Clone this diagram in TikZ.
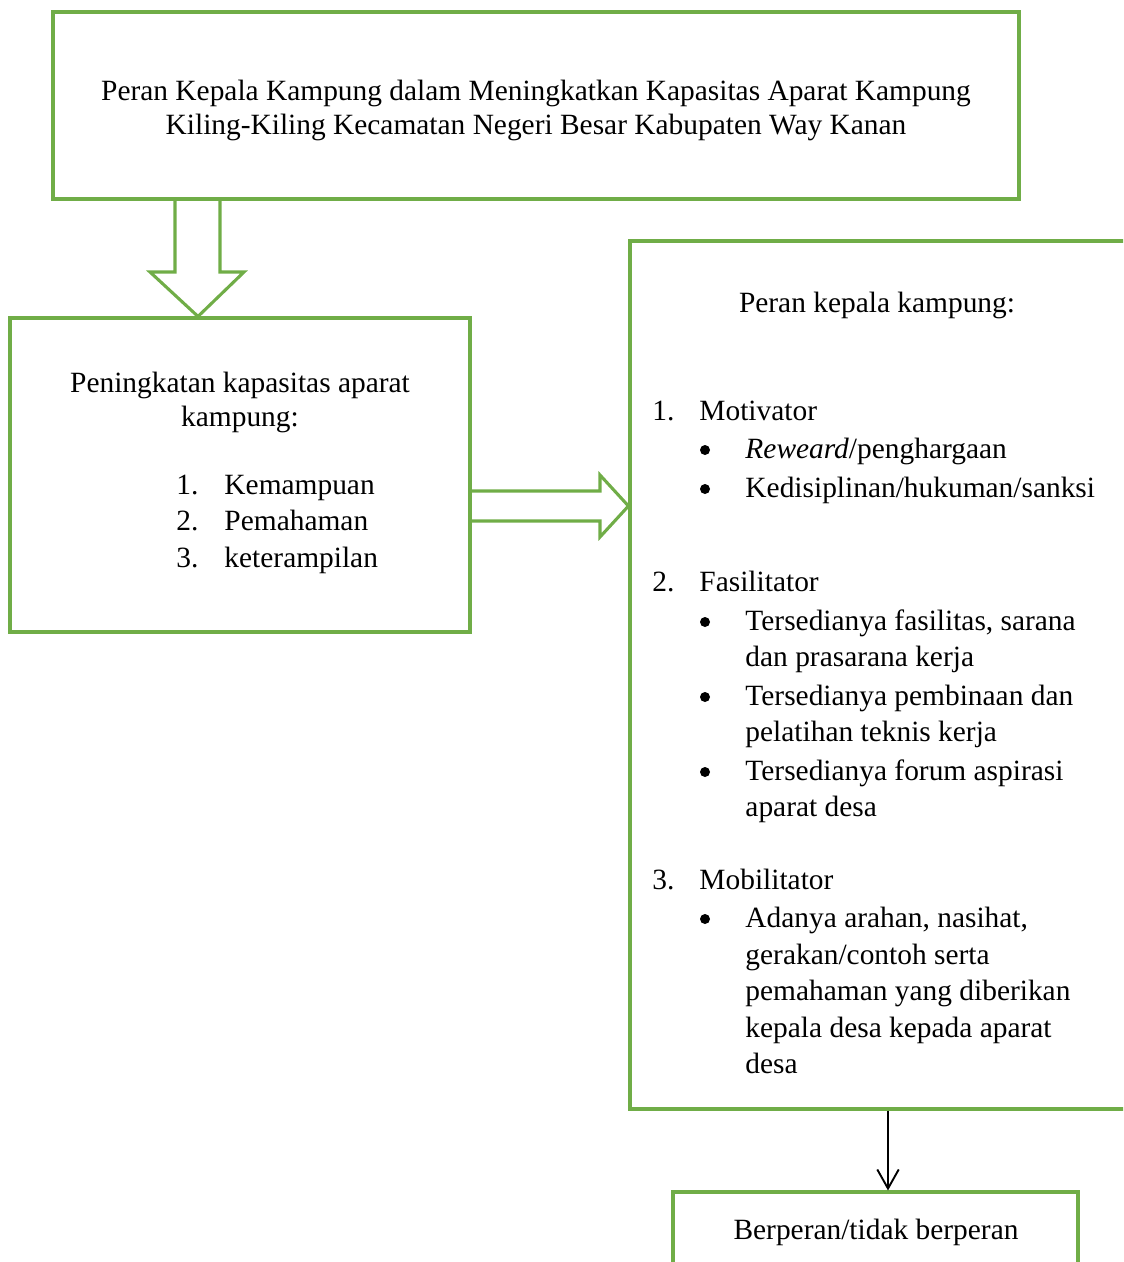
\documentclass[tikz,border=0pt]{standalone}
\usepackage{fontspec}
\setmainfont{Liberation Serif}
\usetikzlibrary{arrows.meta,fit}
\definecolor{boxgreen}{HTML}{70AD47}
\tikzset{
  box/.style={draw=boxgreen, line width=1.3pt, inner sep=0pt},
  blockarrow/.style={draw=boxgreen, line width=1.3pt, line join=miter},
  txt/.style={inner sep=0pt, anchor=base west},
  dot/.style={circle, fill=black, inner sep=0pt, minimum size=4.2pt},
  drop/.style={draw=black, line width=0.8pt, -{Straight Barb[length=8pt,width=9pt]}}
}
\begin{document}
\begin{tikzpicture}[x=0.42pt, y=-0.42pt, font=\fontsize{12.35}{14.3}\selectfont]
  \clip (0,0) rectangle (1123,1262);
  % Boxes
  \node (title) [box, fit={(53,12) (1019,199)}] {};
  \node (title-text) [inner sep=0pt, align=center] at (536,110) {Peran Kepala Kampung dalam Meningkatkan Kapasitas Aparat Kampung\\Kiling-Kiling Kecamatan Negeri Besar Kabupaten Way Kanan};
  \node (capacity) [box, fit={(10,318) (470,632)}] {};
  \node (role) [box, fit={(630,241) (1140,1109)}] {};
  \node (result) [box, fit={(673,1192) (1078,1290)}] {};
  % Texts of the left box
  \node (capacity-head) [inner sep=0pt, align=center] at (240,402) {Peningkatan kapasitas aparat\\kampung:};
  \foreach \y/\n/\t in {494/1./Kemampuan, 530/2./Pemahaman, 567/3./keterampilan} {
    \node [txt] at (176,\y) {\n};
    \node [txt] at (224,\y) {\t};
  }
  % Texts of the right box
  \node (role-head) [inner sep=0pt] at (877,305) {Peran kepala kampung:};
  \foreach \y/\n/\t in {420/1./Motivator, 591/2./Fasilitator, 889/3./Mobilitator} {
    \node [txt] at (652,\y) {\n};
    \node [txt] at (699,\y) {\t};
  }
  \foreach \y in {450, 489, 622, 697, 772, 919}
    \node [dot] at (705,\y) {};
  \foreach \y/\t in {458/{\textit{Reweard}/penghargaan}, 497/{Kedisiplinan/hukuman/sanksi},
      630/{Tersedianya fasilitas, sarana}, 666/{dan prasarana kerja},
      705/{Tersedianya pembinaan dan}, 741/{pelatihan teknis kerja},
      780/{Tersedianya forum aspirasi}, 816/{aparat desa},
      927/{Adanya arahan, nasihat,}, 964/{gerakan/contoh serta},
      1000/{pemahaman yang diberikan}, 1037/{kepala desa kepada aparat}, 1073/{desa}}
    \node [txt] at (745,\y) {\t};
  \node (result-text) [inner sep=0pt] at (876,1232) {Berperan/tidak berperan};
  % Arrows
  \draw[blockarrow] (title.south -| 175,0) -- (175,272) -- (150,272) -- (capacity.north -| 198,0)
    -- (244,272) -- (220,272) -- (title.south -| 220,0);
  \draw[blockarrow] (capacity.east |- 0,491) -- (600,491) -- (600,475) -- (role.west |- 0,506)
    -- (600,537) -- (600,521) -- (capacity.east |- 0,521);
  \coordinate (drop-x) at (888,0);
  \draw[drop] (role.south -| drop-x) -- (result.north -| drop-x);
\end{tikzpicture}
\end{document}
